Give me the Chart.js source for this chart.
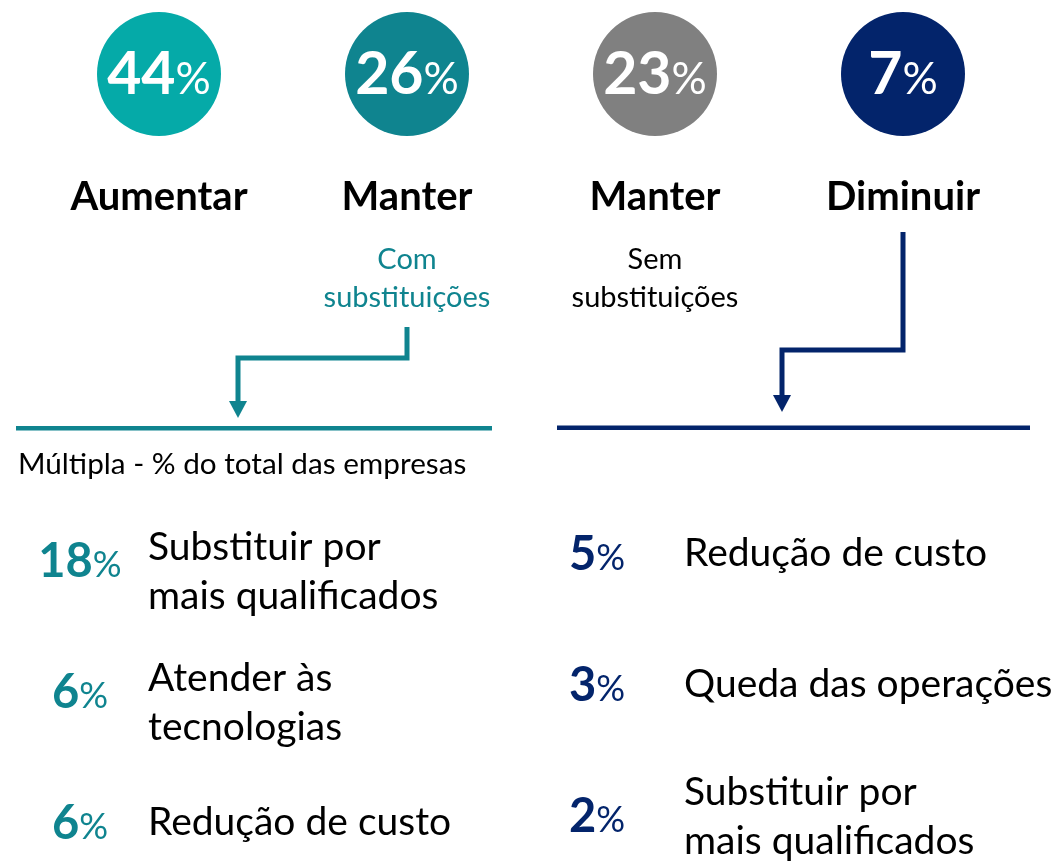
<!DOCTYPE html>
<html lang="pt">
<head>
<meta charset="utf-8">
<title>Intenção de contratação</title>
<script src="https://cdn.jsdelivr.net/npm/chart.js@4.4.1/dist/chart.umd.min.js"></script>
<style>
  html, body { margin: 0; padding: 0; background: #fff; }
  #wrap { width: 1053px; height: 863px; position: relative; }
</style>
</head>
<body>
<div id="wrap"><canvas id="infoChart"></canvas></div>
<script>
// top circles
const groupLabels = ['Aumentar', 'Manter', 'Manter', 'Diminuir'];
const groupValues = [44, 26, 23, 7];
const groupNotes = [[], ['Com', 'substituições'], ['Sem', 'substituições'], []];

// reasons - multiple answers, % of all companies
const keepReasons = [['Substituir por', 'mais qualificados'], ['Atender às', 'tecnologias'], ['Redução de custo']];
const keepValues = [18, 6, 6];
const cutReasons = [['Redução de custo'], ['Queda das operações'], ['Substituir por', 'mais qualificados']];
const cutValues = [5, 3, 2];

const subtitle = 'Múltipla - % do total das empresas';

const TEAL_LIGHT = '#05aaa8';
const TEAL = '#0f848f';
const GREY = '#808080';
const NAVY = '#03246b';
const FONT = 'Lato, "Open Sans", sans-serif';

// number in bold + smaller regular "%" centred on cx
function drawPct(ctx, value, cx, baseline, numSize, pctSize, color) {
    const num = String(value);
    ctx.font = 'bold ' + numSize + 'px ' + FONT;
    const w1 = ctx.measureText(num).width;
    ctx.font = pctSize + 'px ' + FONT;
    const w2 = ctx.measureText('%').width;
    const left = cx - (w1 + w2) / 2;
    ctx.fillStyle = color;
    ctx.textAlign = 'left';
    ctx.textBaseline = 'alphabetic';
    ctx.font = 'bold ' + numSize + 'px ' + FONT;
    ctx.fillText(num, left, baseline);
    ctx.font = pctSize + 'px ' + FONT;
    ctx.fillText('%', left + w1, baseline);
}

function drawArrow(ctx, pts, color) {
    ctx.strokeStyle = color;
    ctx.fillStyle = color;
    ctx.lineWidth = 5;
    ctx.lineJoin = 'miter';
    ctx.beginPath();
    ctx.moveTo(pts[0][0], pts[0][1]);
    for (let i = 1; i < pts.length - 1; i++) ctx.lineTo(pts[i][0], pts[i][1]);
    const tip = pts[pts.length - 1];
    ctx.lineTo(tip[0], tip[1] - 14);
    ctx.stroke();
    ctx.beginPath();
    ctx.moveTo(tip[0] - 9, tip[1] - 17);
    ctx.lineTo(tip[0] + 9, tip[1] - 17);
    ctx.lineTo(tip[0], tip[1]);
    ctx.closePath();
    ctx.fill();
}

const infoPlugin = {
    id: 'infoText',
    afterDatasetsDraw(chart) {
        const ctx = chart.ctx;
        ctx.save();

        // circles: value, label and note
        chart.getDatasetMeta(0).data.forEach((pt, i) => {
            drawPct(ctx, groupValues[i], pt.x, pt.y + 20, 59, 44, '#ffffff');
            ctx.font = 'bold 40px ' + FONT;
            ctx.fillStyle = '#000000';
            ctx.textAlign = 'center';
            ctx.fillText(groupLabels[i], pt.x, 210);
            ctx.font = '29px ' + FONT;
            ctx.fillStyle = i === 1 ? TEAL : '#000000';
            groupNotes[i].forEach((line, j) => ctx.fillText(line, pt.x, 269 + j * 38));
        });

        // connectors
        const xs = chart.scales.x;
        const x1 = xs.getPixelForValue(1);
        const x3 = xs.getPixelForValue(3);
        drawArrow(ctx, [[x1, 327], [x1, 358], [238, 358], [238, 418]], TEAL);
        drawArrow(ctx, [[x3, 232], [x3, 350], [782, 350], [782, 412]], NAVY);

        ctx.fillStyle = TEAL;
        ctx.fillRect(16, 426, 476, 4.5);
        ctx.fillStyle = NAVY;
        ctx.fillRect(557, 425.5, 473, 4.5);

        ctx.font = '29.7px ' + FONT;
        ctx.fillStyle = '#000000';
        ctx.textAlign = 'left';
        ctx.fillText(subtitle, 18, 474);

        // reason lists
        [1, 2].forEach(di => {
            const ds = chart.data.datasets[di];
            chart.getDatasetMeta(di).data.forEach((pt, i) => {
                drawPct(ctx, ds.values[i], pt.x, pt.y + 17, 47, 36, ds.numColor);
                const lines = ds.reasons[i];
                ctx.font = '39px ' + FONT;
                ctx.fillStyle = '#000000';
                ctx.textAlign = 'left';
                const first = lines.length > 1 ? pt.y + ds.twoLineShift : pt.y + 13;
                lines.forEach((line, j) => ctx.fillText(line, pt.x + ds.textOffset, first + j * 49));
            });
        });

        ctx.restore();
    }
};

const ctx = document.getElementById('infoChart').getContext('2d');
new Chart(ctx, {
    type: 'scatter',
    data: {
        datasets: [{
            label: 'Intenção',
            data: groupValues.map((v, i) => ({ x: i, y: 0 })),
            backgroundColor: [TEAL_LIGHT, TEAL, GREY, NAVY],
            borderWidth: 0,
            pointRadius: 62,
            pointHoverRadius: 62,
            xAxisID: 'x',
            yAxisID: 'y'
        }, {
            label: 'Com substituições',
            data: keepValues.map((v, i) => ({ x: 0, y: i })),
            values: keepValues,
            reasons: keepReasons,
            numColor: TEAL,
            textOffset: 68,
            twoLineShift: 0,
            pointRadius: 0,
            xAxisID: 'xl',
            yAxisID: 'rowsL'
        }, {
            label: 'Diminuir',
            data: cutValues.map((v, i) => ({ x: 1, y: i })),
            values: cutValues,
            reasons: cutReasons,
            numColor: NAVY,
            textOffset: 87,
            twoLineShift: -10,
            pointRadius: 0,
            xAxisID: 'xl',
            yAxisID: 'rowsR'
        }]
    },
    options: {
        responsive: true,
        maintainAspectRatio: false,
        animation: false,
        events: [],
        layout: { padding: 0, autoPadding: false },
        plugins: {
            legend: { display: false },
            tooltip: { enabled: false }
        },
        scales: {
            x: { type: 'linear', display: false, min: -159 / 248, max: (1053 - 159) / 248 },
            y: { type: 'linear', display: false, reverse: true, min: -74, max: 789 },
            xl: { type: 'linear', axis: 'x', display: false, min: -80 / 517, max: (1053 - 80) / 517 },
            rowsL: { type: 'linear', axis: 'y', display: false, reverse: true, min: -560 / 131, max: (863 - 560) / 131 },
            rowsR: { type: 'linear', axis: 'y', display: false, reverse: true, min: -553 / 131, max: (863 - 553) / 131 }
        }
    },
    plugins: [infoPlugin]
});
</script>
</body>
</html>
